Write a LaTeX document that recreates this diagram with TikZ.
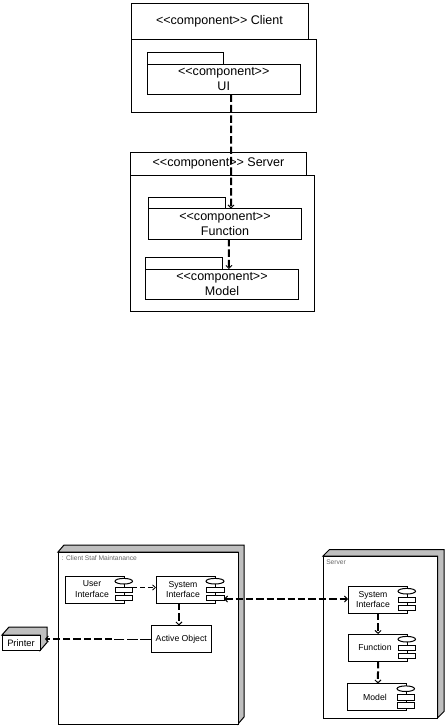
\documentclass[tikz,border=0pt]{standalone}
\usepackage{fontspec}
\setmainfont{Liberation Sans}
\usetikzlibrary{arrows.meta,calc}
\tikzset{
  px/.style={x=0.75pt,y=-0.75pt},
  plain/.style={draw=black,fill=white,line width=0.75pt,inner sep=0pt,align=center,anchor=north west,outer sep=0pt},
  big/.style={font=\fontsize{9.4pt}{11.2pt}\selectfont},
  small/.style={font=\fontsize{6.5pt}{8.2pt}\selectfont},
  tiny/.style={font=\fontsize{5pt}{6pt}\selectfont,text=black!60,inner sep=0pt},
  side/.style={draw=black,fill=black!25,line width=0.75pt,line join=miter},
  port/.style={draw=black,fill=white,line width=0.75pt},
  depthin/.style={draw=black,line width=0.75pt,dash pattern=on 3.6pt off 2.2pt,-{Straight Barb[length=2.2pt,width=4pt,line width=0.6pt]}},
  depthick/.style={draw=black,line width=1.5pt,dash pattern=on 5.6pt off 2.2pt,-{Straight Barb[length=2.2pt,width=4.5pt,line width=0.7pt]}},
}
% \pbox{name}{x1}{y1}{x2}{y2}{style}{text}
\newcommand{\pbox}[7]{%
  \pgfmathsetlengthmacro{\pbw}{(#4-#2)*0.75pt}%
  \pgfmathsetlengthmacro{\pbh}{(#5-#3)*0.75pt}%
  \node[plain,minimum width=\pbw,minimum height=\pbh,#6] (#1) at (#2,#3) {#7};}
% \ports{x1}{x2}{ytop}: the interface glyph of a component
\newcommand{\ports}[3]{%
  \draw[port] ({(#1+#2)/2},{#3+5.2}) ellipse ({(#2-#1)/2} and 2.8);
  \draw[port] (#1,{#3+11.3}) rectangle (#2,{#3+16.7});
  \draw[port] (#1,{#3+19.2}) rectangle (#2,{#3+24.7});}
% \cube{x1}{y1}{x2}{y2}{dx}{dy}: grey top and right faces behind a front rectangle
\newcommand{\cube}[6]{%
  \draw[side] (#1,#2) -- ({#1+#5},{#2-#6}) -- ({#3+#5},{#2-#6}) -- ({#3+#5},{#4-#6}) -- (#3,#4) -- (#3,#2) -- cycle;}
\begin{document}
\begin{tikzpicture}[px]
\useasboundingbox (0,0) rectangle (444,726);
\fill[white] (0,0) rectangle (444,726);

% upper diagram: Client package
\pbox{clienttab}{131}{3.5}{308}{39.5}{big}{\raisebox{-1pt}{<{}<component>{}> Client}}
\pbox{client}{131}{39.5}{316}{112.5}{}{}
\pbox{uitab}{147}{52}{223.5}{64}{}{}
\pbox{ui}{147}{64}{300.5}{94.5}{big}{<{}<component>{}>\\UI}

% upper diagram: Server package
\pbox{servertab}{130.5}{152.5}{306.5}{175}{big}{<{}<component>{}> Server}
\pbox{server}{130.5}{175}{314.5}{311}{}{}
\pbox{fntab}{148.5}{197}{225}{208.5}{}{}
\pbox{fn}{148.5}{208.5}{301.5}{239}{big}{<{}<component>{}>\\Function}
\pbox{modeltab}{145.5}{257}{222}{269}{}{}
\pbox{model}{145.5}{269}{298.5}{299.5}{big}{<{}<component>{}>\\Model}

\draw[depthick] ([xshift=5.6pt]ui.south) -- ([xshift=4.5pt]fn.north);
\draw[depthick] ([xshift=2.9pt]fn.south) -- ([xshift=5.2pt]model.north);

% lower diagram: client node
\cube{58}{552}{238}{724}{6}{7}
\pbox{cnode}{58}{552}{238}{724}{}{}
\node[tiny,anchor=west] (cname) at (61.5,558) {: Client Staf Maintanance};
\pbox{cui}{65}{576}{124}{603}{small}{\hspace*{-3.75pt}User\\\hspace*{-3.75pt}Interface}
\ports{115}{132.5}{576}
\pbox{csi}{156}{576}{215}{603}{small}{\hspace*{-3.75pt}System\\\hspace*{-3.75pt}Interface}
\ports{206}{224}{576}
\pbox{ao}{151}{625.5}{211.5}{652.5}{small}{Active Object}

% printer
\cube{2}{635}{40}{650.5}{7}{8}
\pbox{printer}{2}{635}{40}{650.5}{font=\fontsize{7pt}{8.2pt}\selectfont}{Printer}

% lower diagram: server node
\cube{323}{556}{437.5}{718}{6.5}{6.5}
\pbox{snode}{323}{556}{437.5}{718}{}{}
\node[tiny,anchor=west] (sname) at (326,562) {Server};
\pbox{ssi}{348}{586}{407}{613}{small}{\hspace*{-6.75pt}System\\\hspace*{-6.75pt}Interface}
\ports{398}{415.5}{586}
\pbox{sfn}{348}{634}{407}{661}{small}{\hspace*{-3.75pt}Function}
\ports{398}{415.5}{634}
\pbox{smodel}{347}{683.5}{406}{710.5}{small}{\hspace*{-2.25pt}Model}
\ports{397}{414.5}{683.5}

% lower connectors
\coordinate (aomid) at (112,639);
\coordinate (csiport) at (224,599);
\draw[depthin] ([xshift=6.3pt,yshift=1.5pt]cui.east) -- ([yshift=1.5pt]csi.west);
\draw[depthick] ([xshift=-4.9pt]csi.south) -- ([xshift=-4.9pt]csi.south |- ao.north);
\draw[draw=black,line width=0.75pt,dash pattern=on 8pt off 2pt] (ao.west) -- (aomid);
\draw[depthick] (aomid) -- ([xshift=3.6pt]printer.east |- aomid);
\draw[depthick,{Straight Barb[length=2.2pt,width=4.5pt,line width=0.7pt]}-{Straight Barb[length=2.2pt,width=4.5pt,line width=0.7pt]}] (csiport) -- (ssi.west |- csiport);
\draw[depthick] ([xshift=0.4pt]ssi.south) -- ([xshift=0.4pt]sfn.north);
\draw[depthick] ([xshift=0.4pt]sfn.south) -- ([xshift=1.1pt]smodel.north);
\end{tikzpicture}
\end{document}
